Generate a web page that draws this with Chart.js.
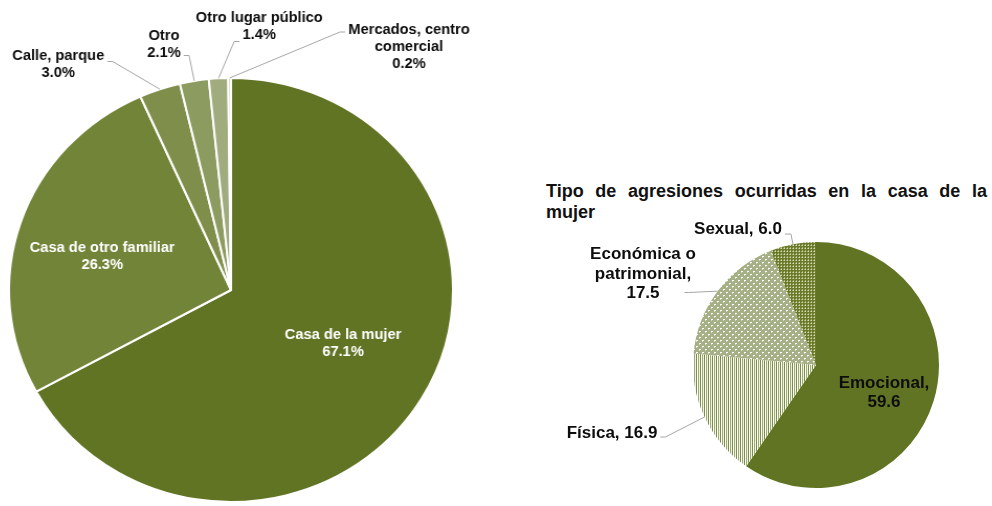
<!DOCTYPE html>
<html>
<head>
<meta charset="utf-8">
<script src="https://cdn.jsdelivr.net/npm/chart.js@4.4.0/dist/chart.umd.min.js"></script>
<style>
body { margin: 0; width: 992px; height: 506px; overflow: hidden; background: #fff; position: relative; font-family: "Liberation Sans", Arial, sans-serif; }
#lugarBox { position: absolute; left: 0; top: 0; width: 470px; height: 530px; transform: scaleX(1.047); transform-origin: 231px 0; }
#tipoBox { position: absolute; left: 540px; top: 220px; width: 452px; height: 286px; }
#tipoTitle { position: absolute; left: 546px; top: 181px; width: 441px; font: bold 18px "Liberation Sans", Arial, sans-serif; line-height: 21px; color: #111; }
#tipoTitle .first { text-align: justify; text-align-last: justify; }
</style>
</head>
<body>
<div id="lugarBox"><canvas id="lugarChart" width="470" height="530"></canvas></div>
<div id="tipoTitle"><div class="first">Tipo de agresiones ocurridas en la casa de la</div><div>mujer</div></div>
<div id="tipoBox"><canvas id="tipoChart" width="452" height="286"></canvas></div>
<script>
// lugar de ocurrencia (%)
const lugarLabels = ["Casa de la mujer", "Casa de otro familiar", "Calle, parque", "Otro", "Otro lugar público", "Mercados, centro\ncomercial"];
const lugarValues = [67.1, 26.3, 3.0, 2.1, 1.4, 0.2];

// tipo de agresiones en la casa de la mujer
const tipoLabels = ["Emocional", "Física", "Económica o\npatrimonial", "Sexual"];
const tipoValues = [59.6, 16.9, 17.5, 6.0];

Chart.defaults.font.family = '"Liberation Sans", Arial, sans-serif';

const lugarColors = ["#617424", "#728438", "#7f8f4b", "#8c9b60", "#a1ac7e", "#c3caa6"];

// label placement around each pie, offsets from the pie centre
const lugarSpots = [
    { dx: 107, dy: 54, color: "#fff" },
    { dx: -123, dy: -33, color: "#fff" },
    { dx: -165, dy: -225, lead: { line: 0, side: "right", dy: 5 } },
    { dx: -64, dy: -245, lead: { line: 1, side: "right", dy: 2 } },
    { dx: 27, dy: -263, lead: { line: 1, side: "left", dy: 6 } },
    { dx: 170, dy: -243, lead: { line: 0, side: "left", dy: 2 } }
];
const tipoSpots = [
    { dx: 68, dy: 28, split: true },
    { dx: -204, dy: 68, lead: { line: 0, side: "right", dy: 4 } },
    { dx: -173, dy: -91, split: true, lead: { line: 2, side: "right", dy: -1, gap: 25, stub: 4 } },
    { dx: -78, dy: -136, lead: { line: 0, side: "right", dy: 5, stub: 6 } }
];

function pattern(w, h, paint) {
    const c = document.createElement("canvas");
    c.width = w; c.height = h;
    const g = c.getContext("2d");
    paint(g);
    return g.createPattern(c, "repeat");
}
function px(g, color, pts) {
    g.fillStyle = color;
    pts.forEach(p => g.fillRect(p[0], p[1], 1, 1));
}

// fills for the patterned slices
const rayas = pattern(4, 1, g => {
    px(g, "#7d8e45", [[0, 0]]);
    px(g, "#ffffff", [[1, 0]]);
    px(g, "#9fac72", [[2, 0]]);
    px(g, "#eef1e3", [[3, 0]]);
});
const puntosClaros = pattern(6, 6, g => {
    g.fillStyle = "#a6b086"; g.fillRect(0, 0, 6, 6);
    px(g, "#ffffff", [[0, 0], [3, 3], [1, 0], [4, 3]]);
    px(g, "#d3d8c0", [[0, 1], [3, 4]]);
});
const puntosOscuros = pattern(3, 3, g => {
    g.fillStyle = "#6a7c2c"; g.fillRect(0, 0, 3, 3);
    px(g, "#d4dbb8", [[1, 1]]);
    px(g, "#a3b072", [[0, 1], [1, 0]]);
});
const tipoColors = ["#617424", rayas, puntosClaros, puntosOscuros];

function sliceLabels(spots, size, lineHeight, format) {
    return {
        id: "sliceLabels",
        afterDatasetsDraw(chart) {
            const ctx = chart.ctx;
            const values = chart.data.datasets[0].data;
            const arcs = chart.getDatasetMeta(0).data;
            ctx.save();
            ctx.font = "bold " + size + 'px "Liberation Sans", Arial, sans-serif';
            ctx.textAlign = "center";
            ctx.textBaseline = "middle";
            arcs.forEach((arc, i) => {
                const spot = spots[i];
                const p = arc.getProps(["x", "y", "startAngle", "endAngle", "outerRadius"], true);
                const lines = format(chart.data.labels[i], values[i], spot);
                const cx = p.x + spot.dx;
                const top = p.y + spot.dy - (lines.length - 1) * lineHeight / 2;
                ctx.fillStyle = spot.color || "#0d0d0d";
                lines.forEach((t, k) => ctx.fillText(t, cx, top + k * lineHeight));
                if (spot.lead) {
                    const L = spot.lead;
                    const sgn = L.side === "right" ? 1 : -1;
                    const w = ctx.measureText(lines[L.line]).width;
                    const tx = cx + sgn * (w / 2 + (L.gap ?? 3));
                    const ty = top + L.line * lineHeight + L.dy;
                    const ex = tx + sgn * (L.stub ?? 5);
                    const mid = (p.startAngle + p.endAngle) / 2;
                    ctx.beginPath();
                    ctx.moveTo(tx, ty);
                    ctx.lineTo(ex, ty);
                    ctx.lineTo(p.x + Math.cos(mid) * p.outerRadius, p.y + Math.sin(mid) * p.outerRadius);
                    ctx.strokeStyle = "#a6a6a6";
                    ctx.lineWidth = 1;
                    ctx.stroke();
                }
            });
            ctx.restore();
        }
    };
}

const quiet = {
    legend: { display: false },
    tooltip: { enabled: false }
};

new Chart(document.getElementById("lugarChart"), {
    type: "pie",
    data: {
        labels: lugarLabels,
        datasets: [{
            data: lugarValues,
            backgroundColor: lugarColors,
            borderColor: "#ffffff",
            borderWidth: 2,
            hoverOffset: 0
        }]
    },
    options: {
        responsive: false,
        animation: false,
        devicePixelRatio: 1,
        layout: { padding: { left: 18, right: 26, top: 77, bottom: 27 } },
        plugins: quiet
    },
    plugins: [sliceLabels(lugarSpots, 14, 17, (label, v) => label.split("\n").concat([v.toFixed(1) + "%"]))]
});

new Chart(document.getElementById("tipoChart"), {
    type: "pie",
    data: {
        labels: tipoLabels,
        datasets: [{
            data: tipoValues,
            backgroundColor: tipoColors,
            borderWidth: 0,
            hoverOffset: 0
        }]
    },
    options: {
        responsive: false,
        animation: false,
        devicePixelRatio: 1,
        layout: { padding: { left: 153, right: 53, top: 22, bottom: 18 } },
        plugins: quiet
    },
    plugins: [sliceLabels(tipoSpots, 17, 19.5, (label, v, spot) => {
        const lines = label.split("\n");
        if (spot.split) {
            lines[lines.length - 1] += ",";
            return lines.concat([v.toFixed(1)]);
        }
        lines[lines.length - 1] += ", " + v.toFixed(1);
        return lines;
    })]
});
</script>
</body>
</html>
